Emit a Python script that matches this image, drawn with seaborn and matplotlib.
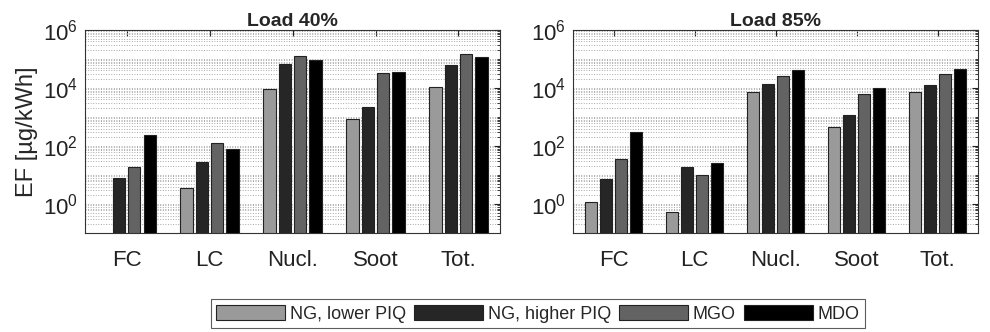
import numpy as np
import pandas as pd
import matplotlib
matplotlib.use("Agg")
import matplotlib.pyplot as plt
from matplotlib.ticker import FixedLocator, NullFormatter, LogFormatterMathtext
import seaborn as sns

categories = ["FC", "LC", "Nucl.", "Soot", "Tot."]
fuels = ["NG, lower PIQ", "NG, higher PIQ", "MGO", "MDO"]
fuel_colors = ["#9a9a9a", "#262626", "#636363", "#000000"]

# Emission factors [µg/kWh] at 40 % engine load
load40_ng_lower = [np.nan, 3.6, 9300, 840, 10800]
load40_ng_higher = [7.8, 27.5, 64500, 2290, 61500]
load40_mgo = [19.6, 126, 122000, 33600, 147000]
load40_mdo = [240, 79, 91000, 36300, 118000]

# Emission factors [µg/kWh] at 85 % engine load
load85_ng_lower = [1.2, 0.52, 7100, 460, 7100]
load85_ng_higher = [7.2, 18.6, 13700, 1180, 12700]
load85_mgo = [37, 10.2, 26500, 6200, 29400]
load85_mdo = [302, 26, 40400, 10200, 43700]

panel_titles = ["Load 40%", "Load 85%"]
y_major_ticks = [1e0, 1e2, 1e4, 1e6]

# minor ticks / grid lines at 1..9 x 10^k inside the visible range
y_minor_ticks = [m * 10.0 ** k for k in range(-1, 6) for m in range(1, 10)] + [1e6]


def to_long(series):
    rows = []
    for fuel, vals in zip(fuels, series):
        for cat, v in zip(categories, vals):
            rows.append({"category": cat, "fuel": fuel, "EF": v})
    return pd.DataFrame(rows)


data = [
    to_long([load40_ng_lower, load40_ng_higher, load40_mgo, load40_mdo]),
    to_long([load85_ng_lower, load85_ng_higher, load85_mgo, load85_mdo]),
]

sns.set_style("white")
plt.rcParams["font.family"] = ["Liberation Sans", "DejaVu Sans"]

fig = plt.figure(figsize=(9.9, 3.32), dpi=100)
axes = [fig.add_axes([0.086, 0.298, 0.419, 0.612]),
        fig.add_axes([0.579, 0.298, 0.409, 0.612])]

for ax, df, title in zip(axes, data, panel_titles):
    ax.set_yscale("log")
    sns.barplot(data=df, x="category", y="EF", hue="fuel", order=categories,
                hue_order=fuels, palette=fuel_colors, width=0.74, gap=0.2,
                edgecolor="#222222", linewidth=0.8, saturation=1,
                errorbar=None, legend=False, ax=ax)
    ax.set_ylim(0.1, 1e6)
    ax.set_xlim(-0.5, 4.5)
    ax.yaxis.set_major_locator(FixedLocator(y_major_ticks))
    ax.yaxis.set_major_formatter(LogFormatterMathtext(base=10))
    ax.yaxis.set_minor_locator(FixedLocator(y_minor_ticks))
    ax.yaxis.set_minor_formatter(NullFormatter())
    ax.grid(True, axis="y", which="both", color="#a8a8a8", linestyle=":", linewidth=0.7)
    ax.set_axisbelow(True)
    ax.tick_params(axis="both", which="both", direction="in", top=True, right=True,
                   colors="#222222", labelcolor="#222222")
    ax.tick_params(axis="both", which="major", length=4, width=0.8, labelsize=16)
    ax.tick_params(axis="y", which="minor", length=2, width=0.6)
    ax.tick_params(axis="x", pad=12)
    ax.tick_params(axis="y", pad=5)
    for s in ax.spines.values():
        s.set_color("#333333")
        s.set_linewidth(0.8)
    ax.set_xlabel("")
    ax.set_ylabel("")
    ax.set_title(title, fontsize=14, fontweight="bold", pad=3)

axes[0].set_ylabel("EF [µg/kWh]", fontsize=17, labelpad=4)

handles = [plt.Rectangle((0, 0), 1, 1, facecolor=c, edgecolor="#222222", linewidth=0.8)
           for c in fuel_colors]
leg = fig.legend(handles, fuels, loc="lower center", bbox_to_anchor=(0.5435, 0.012),
                 ncol=4, fontsize=13, frameon=True, fancybox=False,
                 handlelength=3.8, handleheight=0.95, handletextpad=0.28,
                 columnspacing=0.45, borderpad=0.3, borderaxespad=0.0)
leg.get_frame().set_edgecolor("#333333")
leg.get_frame().set_linewidth(0.8)

fig.savefig("out.png", dpi=100, facecolor="white")
